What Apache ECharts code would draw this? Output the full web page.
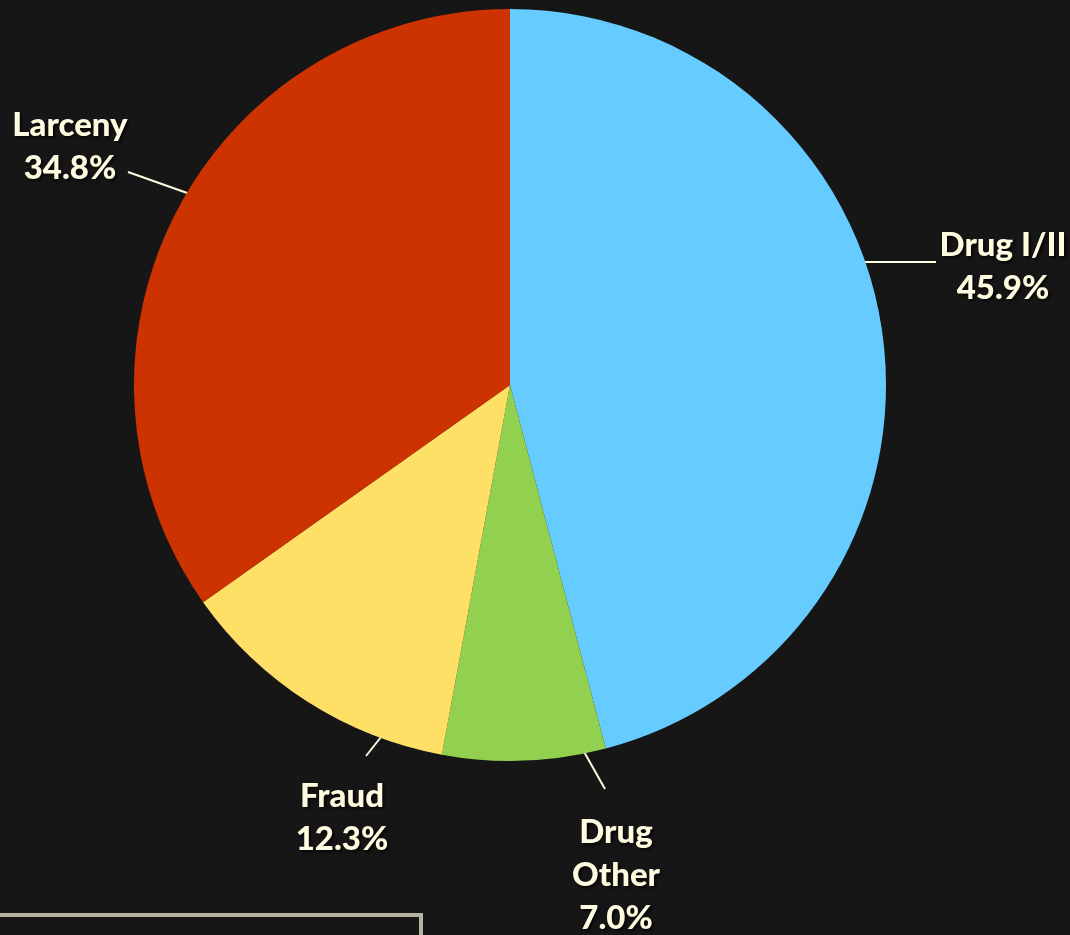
<!DOCTYPE html>
<html>
<head>
<meta charset="utf-8">
<script src="https://cdn.jsdelivr.net/npm/echarts@6/dist/echarts.min.js"></script>
<style>
html,body{margin:0;padding:0;background:#161616;}
#main{width:1070px;height:935px;}
</style>
</head>
<body>
<div id="main"></div>
<script>
const categories = ['Drug I/II', 'Drug Other', 'Fraud', 'Larceny'];
const labelNames = ['Drug I/II', 'Drug\nOther', 'Fraud', 'Larceny'];
const values = [45.9, 7.0, 12.3, 34.8];
const colors = ['#66CCFF', '#92D050', '#FFE066', '#CC3300'];
// label placement (annotation layout, pixels)
const labelPos = [[1003, 267], [616, 875], [342, 818], [70, 147]];
const leaderLines = [
  [[860, 262], [936, 262]],
  [[583, 750], [605, 789]],
  [[396, 718], [366, 756]],
  [[190, 194], [128, 172]]
];

const chart = echarts.init(document.getElementById('main'));
chart.setOption({
  backgroundColor: '#161616',
  animation: false,
  graphic: [{
    type: 'rect',
    shape: { x: -10, y: 915, width: 431, height: 40 },
    style: { fill: 'none', stroke: '#b5b3a0', lineWidth: 4 }
  }],
  series: [{
    type: 'pie',
    center: [510, 385],
    radius: 376,
    startAngle: 90,
    clockwise: true,
    data: categories.map((c, i) => ({
      name: labelNames[i],
      value: values[i],
      itemStyle: { color: colors[i] }
    })),
    label: {
      show: true,
      position: 'outside',
      formatter: p => p.name + '\n' + p.value.toFixed(1) + '%',
      color: '#FFFBE0',
      fontFamily: 'Lato',
      fontWeight: 900,
      fontSize: 33,
      lineHeight: 43,
      align: 'center',
      textShadowColor: 'rgba(0,0,0,0.7)',
      textShadowBlur: 3,
      textShadowOffsetX: 2,
      textShadowOffsetY: 2
    },
    labelLine: {
      show: true,
      length: 20,
      length2: 20,
      lineStyle: { color: '#FFFBE0', width: 2 }
    },
    labelLayout: function (params) {
      const p = labelPos[params.dataIndex];
      const l = leaderLines[params.dataIndex];
      return {
        x: p[0], y: p[1], align: 'center', verticalAlign: 'middle',
        labelLinePoints: [l[0], l[1], l[1]]
      };
    }
  }]
});
</script>
</body>
</html>
